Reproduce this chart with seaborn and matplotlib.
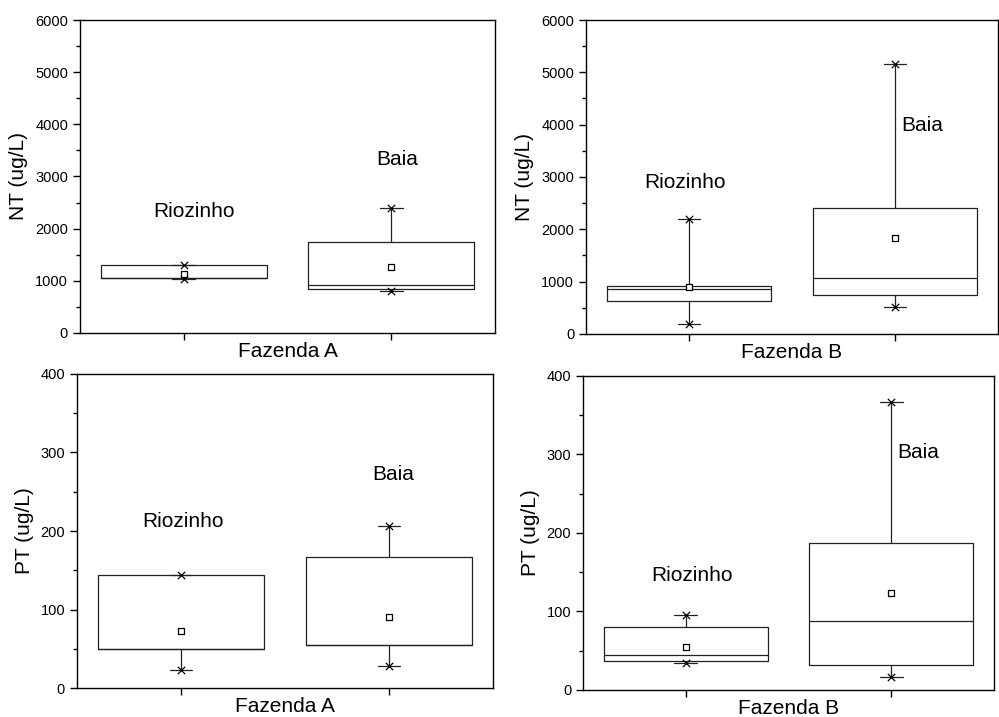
import numpy as np
import pandas as pd
import matplotlib.pyplot as plt
import seaborn as sns
from matplotlib.ticker import AutoMinorLocator

sites = ['Riozinho', 'Baia']

# NT (ug/L), Fazenda A
nt_a_low = [1036, 806]
nt_a_q1 = [1049, 851]
nt_a_med = [1060, 928]
nt_a_q3 = [1295, 1747]
nt_a_high = [1300, 2399]
nt_a_mean = [1126, 1267]

# NT (ug/L), Fazenda B
nt_b_low = [191, 516]
nt_b_q1 = [624, 752]
nt_b_med = [866, 1070]
nt_b_q3 = [917, 2414]
nt_b_high = [2191, 5159]
nt_b_mean = [905, 1841]

# PT (ug/L), Fazenda A
pt_a_low = [23.4, 28.5]
pt_a_q1 = [49.3, 54.4]
pt_a_med = [49.5, 55.0]
pt_a_q3 = [144, 167]
pt_a_high = [144.5, 206.6]
pt_a_mean = [72.3, 90.5]

# PT (ug/L), Fazenda B
pt_b_low = [34.8, 16.1]
pt_b_q1 = [36.9, 31.8]
pt_b_med = [45.0, 87.9]
pt_b_q3 = [79.8, 187.7]
pt_b_high = [96, 366.9]
pt_b_mean = [55.2, 124]

sns.set_style('ticks')
plt.rcParams['font.family'] = ['Liberation Sans', 'DejaVu Sans']
plt.rcParams['text.color'] = 'black'
plt.rcParams['axes.labelcolor'] = 'black'
plt.rcParams['xtick.color'] = 'black'
plt.rcParams['ytick.color'] = 'black'

fig = plt.figure(figsize=(9.99, 7.17), dpi=100)

panels = [
    # rect, stats, ylabel, xlabel, ylim, ystep, label positions
    ([0.080, 0.5356, 0.4155, 0.4365],
     (nt_a_low, nt_a_q1, nt_a_med, nt_a_q3, nt_a_high, nt_a_mean),
     'NT (ug/L)', 'Fazenda A', 6000, 1000, [(0.05, 2320), (1.03, 3330)]),
    ([0.5866, 0.5342, 0.4124, 0.4379],
     (nt_b_low, nt_b_q1, nt_b_med, nt_b_q3, nt_b_high, nt_b_mean),
     'NT (ug/L)', 'Fazenda B', 6000, 1000, [(-0.02, 2890), (1.13, 3975)]),
    ([0.077, 0.0404, 0.4165, 0.4380],
     (pt_a_low, pt_a_q1, pt_a_med, pt_a_q3, pt_a_high, pt_a_mean),
     'PT (ug/L)', 'Fazenda A', 400, 100, [(0.01, 212), (1.02, 272)]),
    ([0.5836, 0.0377, 0.4114, 0.4379],
     (pt_b_low, pt_b_q1, pt_b_med, pt_b_q3, pt_b_high, pt_b_mean),
     'PT (ug/L)', 'Fazenda B', 400, 100, [(0.03, 146), (1.13, 303)]),
]

pos = np.arange(len(sites))

for rect, stats, ylabel, xlabel, ymax, ystep, label_pos in panels:
    ax = fig.add_axes(rect)
    low, q1, med, q3, high, mean = stats
    rows = []
    for i in range(len(sites)):
        for v in (low[i], q1[i], med[i], q3[i], high[i]):
            rows.append({'pos': pos[i], 'value': v})
    df = pd.DataFrame(rows)

    sns.boxplot(data=df, x='pos', y='value', native_scale=True, whis=(0, 100),
                width=0.8, fill=False, color='#222222', linewidth=0.9,
                capwidths=0.11, ax=ax)
    sns.scatterplot(x=np.concatenate([pos, pos]), y=list(low) + list(high),
                    marker='x', s=28, color='black', linewidth=0.9,
                    legend=False, zorder=5, ax=ax)
    sns.scatterplot(x=pos, y=mean, marker='s', s=22, facecolor='white',
                    edgecolor='black', linewidth=0.9, legend=False, zorder=6, ax=ax)

    for name, (tx, ty) in zip(sites, label_pos):
        ax.text(tx, ty, name, ha='center', va='center', fontsize=15)

    ax.set_xlim(-0.5, 1.5)
    ax.set_ylim(0, ymax)
    ax.set_xticks(pos)
    ax.set_xticklabels([])
    ax.set_yticks(np.arange(0, ymax + 1, ystep))
    ax.yaxis.set_minor_locator(AutoMinorLocator(2))
    ax.tick_params(axis='both', which='major', direction='out', length=5,
                   width=1, labelsize=10.5, color='black', top=False, right=False)
    ax.tick_params(axis='y', which='minor', direction='out', length=3, width=1)
    for s in ax.spines.values():
        s.set_visible(True)
        s.set_color('black')
        s.set_linewidth(1.0)
    ax.set_ylabel(ylabel, fontsize=15, labelpad=5)
    ax.set_xlabel(xlabel, fontsize=15, labelpad=-2)

fig.savefig('out.png', dpi=100)
